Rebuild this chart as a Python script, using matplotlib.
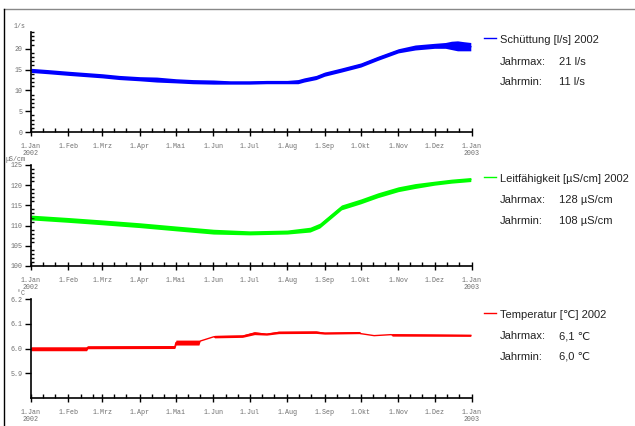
import numpy as np
import pandas as pd
import matplotlib
matplotlib.use("Agg")
import matplotlib.pyplot as plt
import matplotlib.dates as mdates
from matplotlib.lines import Line2D
from matplotlib.transforms import offset_copy

# Schüttung [l/s]
q_dates = ["2002-01-01", "2002-01-15", "2002-02-01", "2002-02-15", "2002-03-01",
           "2002-03-15", "2002-04-01", "2002-04-15", "2002-05-01", "2002-05-15",
           "2002-06-01", "2002-06-15", "2002-07-01", "2002-07-15", "2002-08-01",
           "2002-08-10", "2002-08-15", "2002-08-25", "2002-09-01", "2002-09-15",
           "2002-10-01", "2002-10-15", "2002-11-01", "2002-11-15", "2002-12-01",
           "2002-12-10", "2002-12-15", "2002-12-20", "2002-12-25", "2002-12-31"]
q_mid = [14.8, 14.5, 14.1, 13.8, 13.5, 13.1, 12.8, 12.6, 12.3, 12.1,
         12.0, 11.9, 11.9, 12.0, 12.0, 12.1, 12.5, 13.1, 13.9, 14.9,
         16.1, 17.7, 19.5, 20.3, 20.7, 20.8, 20.8, 20.7, 20.6, 20.5]
q_half = [0.5, 0.5, 0.5, 0.5, 0.5, 0.5, 0.5, 0.6, 0.5, 0.5,
          0.5, 0.4, 0.4, 0.4, 0.4, 0.5, 0.5, 0.5, 0.5, 0.5,
          0.5, 0.5, 0.5, 0.6, 0.6, 0.7, 1.0, 1.2, 1.1, 1.0]

# Leitfähigkeit [µS/cm]
lf_dates = ["2002-01-01", "2002-02-01", "2002-03-01", "2002-04-01", "2002-05-01",
            "2002-06-01", "2002-07-01", "2002-08-01", "2002-08-20", "2002-08-28",
            "2002-09-05", "2002-09-15", "2002-10-01", "2002-10-15", "2002-11-01",
            "2002-11-15", "2002-12-01", "2002-12-15", "2002-12-31"]
lf_mid = [112.0, 111.4, 110.8, 110.1, 109.3, 108.5, 108.2, 108.4, 109.0, 110.0,
          112.0, 114.5, 116.0, 117.5, 119.0, 119.8, 120.5, 121.0, 121.4]
lf_half = [0.6, 0.6, 0.6, 0.6, 0.6, 0.6, 0.5, 0.5, 0.6, 0.6,
           0.6, 0.6, 0.6, 0.6, 0.6, 0.6, 0.5, 0.5, 0.5]

# Temperatur [°C]
t_dates = ["2002-01-01", "2002-02-16", "2002-02-17", "2002-04-30", "2002-05-01",
           "2002-05-20", "2002-05-21", "2002-06-01", "2002-06-02", "2002-06-25",
           "2002-07-05", "2002-07-15", "2002-07-25", "2002-08-25", "2002-09-01",
           "2002-09-30", "2002-10-01", "2002-10-12", "2002-10-26", "2002-10-27",
           "2002-12-31"]
t_mid = [5.999, 5.999, 6.005, 6.006, 6.024, 6.024, 6.030, 6.047, 6.048, 6.050,
         6.062, 6.058, 6.065, 6.066, 6.062, 6.064, 6.060, 6.052, 6.056, 6.055,
         6.053]
t_half = [0.008, 0.008, 0.006, 0.006, 0.010, 0.010, 0.0, 0.0, 0.005, 0.005,
          0.006, 0.004, 0.005, 0.005, 0.004, 0.004, 0.0, 0.0, 0.0, 0.005,
          0.004]

month_names = ["Jan", "Feb", "Mrz", "Apr", "Mai", "Jun", "Jul", "Aug",
               "Sep", "Okt", "Nov", "Dez", "Jan"]

legend_title = ["Schüttung [l/s] 2002", "Leitfähigkeit [µS/cm] 2002", "Temperatur [℃] 2002"]
jahrmax = ["21 l/s", "128 µS/cm", "6,1 ℃"]
jahrmin = ["11 l/s", "108 µS/cm", "6,0 ℃"]
units = ["1/s", "µS/cm", "°C"]
colors = ["#0000ff", "#00ff00", "#ff0000"]

fig = plt.figure(figsize=(6.35, 4.26), dpi=100)
fig.patch.set_facecolor("white")

# frame lines of the page
fig.add_artist(Line2D([4/635, 1], [1-9/426, 1-9/426], color="#888888", lw=1))
fig.add_artist(Line2D([4/635, 4/635], [0, 1-9/426], color="black", lw=1))

ax_rect = [[0.0488, 0.690, 0.6945, 0.2347],
           [0.0488, 0.3756, 0.6945, 0.2371],
           [0.0488, 0.0657, 0.6945, 0.2324]]
ylims = [(0, 24), (100, 125), (5.8, 6.2)]
yticks = [[0, 5, 10, 15, 20], [100, 105, 110, 115, 120, 125], [5.9, 6.0, 6.1, 6.2]]
ylabels = [["0", "5", "10", "15", "20"],
           ["100", "105", "110", "115", "120", "125"],
           ["5.9", "6.0", "6.1", "6.2"]]
yminor = [1, 1, None]
series = [(q_dates, q_mid, q_half), (lf_dates, lf_mid, lf_half), (t_dates, t_mid, t_half)]
text_y = [(0.906, 0.854, 0.808), (0.580, 0.531, 0.481), (0.261, 0.211, 0.162)]

month_starts = pd.date_range("2002-01-01", "2003-01-01", freq="MS")
xlabels = []
for i, d in enumerate(month_starts):
    lab = "1." + month_names[i]
    if d.month == 1:
        lab += "\n" + str(d.year)
    xlabels.append(lab)

mono = "Liberation Mono"
sans = ["Liberation Sans", "DejaVu Sans"]
tick_col = "#6e6e6e"

for k in range(3):
    ax = fig.add_axes(ax_rect[k])
    d, m, h = series[k]
    x = pd.to_datetime(d)
    m = np.array(m)
    h = np.array(h)
    ax.fill_between(x, m - h, m + h, color=colors[k], lw=0)
    ax.plot(x, m, color=colors[k], lw=1)

    ax.set_xlim(pd.Timestamp("2002-01-01"), pd.Timestamp("2003-01-01"))
    ax.set_ylim(*ylims[k])
    ax.spines["top"].set_visible(False)
    ax.spines["right"].set_visible(False)
    ax.spines["left"].set_linewidth(1.2)
    ax.spines["bottom"].set_linewidth(1.2)

    ax.set_xticks(mdates.date2num(month_starts))
    ax.set_xticklabels(xlabels, fontfamily=mono, fontsize=4.8, color=tick_col,
                       linespacing=1.0)
    ax.xaxis.set_minor_locator(mdates.DayLocator(bymonthday=[11, 21]))
    ax.tick_params(axis="x", which="major", direction="inout", length=6, width=1, pad=5)
    ax.tick_params(axis="x", which="minor", direction="in", length=3, width=1)

    ax.set_yticks(yticks[k])
    ax.set_yticklabels(ylabels[k], fontfamily=mono, fontsize=4.8, color=tick_col)
    if yminor[k]:
        ax.set_yticks(np.arange(ylims[k][0], ylims[k][1] + 0.01, yminor[k]), minor=True)
    ax.tick_params(axis="y", which="major", direction="out", length=4, width=1, pad=2)
    ax.tick_params(axis="y", which="minor", direction="in", length=2, width=1)

    # unit label a few pixels above the top of the y axis
    tr = offset_copy(ax.transAxes, fig=fig, x=-4, y=4, units="points")
    ax.text(0, 1, units[k], transform=tr, ha="right", va="center",
            fontfamily=mono, fontsize=4.8, color=tick_col)

    ty = text_y[k]
    fig.add_artist(Line2D([484/635, 496/635], [ty[0] + 0.004, ty[0] + 0.004],
                          color=colors[k], lw=1))
    fig.text(0.787, ty[0], legend_title[k], ha="left", va="center",
             family=sans, fontsize=8, color="#222222")
    fig.text(0.787, ty[1], "Jahrmax:", ha="left", va="center",
             family=sans, fontsize=8, color="#222222")
    fig.text(0.880, ty[1], jahrmax[k], ha="left", va="center",
             family=sans, fontsize=8, color="#222222")
    fig.text(0.787, ty[2], "Jahrmin:", ha="left", va="center",
             family=sans, fontsize=8, color="#222222")
    fig.text(0.880, ty[2], jahrmin[k], ha="left", va="center",
             family=sans, fontsize=8, color="#222222")

fig.savefig("out.png", dpi=100)
